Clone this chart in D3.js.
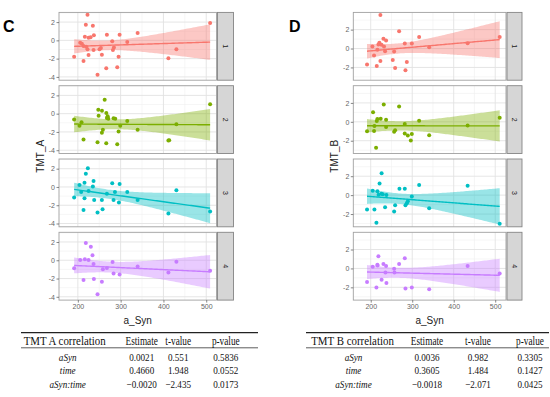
<!DOCTYPE html>
<html><head><meta charset="utf-8">
<script src="https://cdn.jsdelivr.net/npm/d3@7"></script>
<style>body{margin:0;background:#fff}svg{display:block}</style>
</head><body><svg id="c" width="550" height="397"></svg>
<script>
// ---------- data ----------
const facets = ["1","2","3","4"];
const colors = ["#F8766D","#7CAE00","#00BFC4","#C77CFF"];
const xTicks = [200,300,400,500];
const yTicksA = [2,0,-2,-4];
const yTicksB = [2,0,-2];

const tmtA1 = [[222.6,2.8],[218.7,1.71],[235.1,1.6],[216.4,0.4],[225,0.29],[229.7,0.33],[237.5,0.55],[267.9,0.62],[297.6,0.62],[339.7,0.8],[205.5,-0.25],[209.4,-0.36],[213.3,-0.62],[191.4,-1.79],[213.3,-2.26],[225,-1.6],[219.5,-0.69],[222.6,-0.98],[236.7,-1.06],[250.7,-0.98],[256.2,-1.57],[246,-3.75],[266.4,-3.06],[292.1,-2.95],[295.2,-1.79],[280.4,-0.11],[284.3,-0.77],[282,-1.06],[315.5,-0.18],[253.9,-0.84],[411.6,-1.97],[430.3,-0.98],[509.1,1.89]];
const tmtA2 = [[262.7,1.53],[247.8,0.44],[256.4,0.33],[266.6,0.07],[269.7,-0.29],[248.6,-0.22],[271.3,-0.55],[191.4,-0.65],[267.9,-0.47],[283.5,-0.5],[287.4,-0.55],[315.5,-0.8],[208.6,-0.95],[203.9,-1.31],[299.1,-1.31],[339.7,-1.75],[430.3,-1.16],[509.1,1.02],[258.5,-1.75],[256.2,-2.1],[295.2,-1.96],[213.3,-2.84],[246,-3.13],[266.4,-3.24],[292.1,-3.35],[411.6,-2.95],[413.5,-2.9]];
const tmtA3 = [[223.4,2.04],[218.7,1.45],[215.6,0.47],[203.9,0.22],[236.7,0.65],[235.1,0.04],[225,-0.44],[207.8,-0.55],[191.4,-1.16],[215.6,-1.24],[238.2,-1.42],[256.2,-1.42],[267.9,-0.73],[280.4,0.4],[297.6,0.33],[286.7,-0.55],[315.5,-0.55],[283.5,-1.42],[296,-1.71],[339.7,-1.42],[213.3,-2.51],[257.8,-2.44],[246,-2.8],[411.6,-2.91],[430.3,-0.36],[509.1,-2.69]];
const tmtA4 = [[218.7,1.89],[230.4,1.49],[234.3,0.55],[205.5,0.04],[216.4,0.11],[225,0.04],[236.7,-0.4],[191.4,-0.87],[258.5,-0.98],[267.9,-0.84],[281.2,-0.18],[283.5,-1.45],[297.6,-1.56],[339.7,-0.69],[213.3,-2.15],[237.5,-2.04],[256.2,-2.36],[246,-3.71],[411.6,-1.35],[430.3,-0.15],[509.1,-1.16]];

const tmtB1 = [[223.3,3.54],[268.4,1.82],[316.7,1.21],[230.6,1.04],[237,0.86],[220.9,0.61],[218.5,0.43],[226,0.39],[232,0.21],[204,0.21],[282.1,0.54],[299,0.54],[340.9,0.14],[433.5,0.57],[510.8,1.21],[216.1,-0.14],[234.6,-0.29],[256.4,-0.32],[208,-0.75],[223.3,-1.32],[253.1,-1.21],[191.1,-1.68],[214.5,-1.86],[287,-1.43],[258.8,-2.07],[283.7,-2.29]];
const tmtB2 = [[231.4,1.84],[268.4,1.62],[205.6,1.01],[216,0.29],[224,0.32],[214.5,0.1],[237,0.22],[282,-0.22],[316.7,0.11],[433.5,-0.4],[510.8,0.43],[208.9,-0.43],[237,-0.54],[208,-0.97],[258.8,-0.9],[256.4,-1.05],[282,-1.23],[289.4,-1.44],[299,-1.3],[340.9,-1.41],[296.6,-1.98],[212.9,-2.75],[191.1,-1.0]];
const tmtB3 = [[226.2,2.3],[221.3,1.22],[316.7,1.08],[433.5,1.0],[269.2,0.68],[282.1,0.68],[204.8,0.47],[216.1,0.4],[225.8,0.14],[219,0.05],[229,0.1],[237.8,0],[299,-0.14],[289.4,-0.65],[287,-0.86],[283.7,-1.08],[258.8,-1.08],[234.6,-1.29],[256.4,-1.73],[191.1,-1.51],[208.9,-1.51],[340.9,-1.4],[213.7,-2.91],[510.8,-3.02]];
const tmtB4 = [[218.5,1.29],[282.1,1.08],[268.4,0.47],[230.6,0.47],[216,0.4],[216.5,0.3],[237,0.25],[204.8,0.18],[433.5,0.25],[256.4,-0.04],[235.4,-0.43],[257.2,-0.43],[510.8,-0.54],[226.2,-1.19],[191.1,-1.44],[237.8,-1.55],[213.7,-2.01],[283.7,-2.12],[299,-2.01],[340.9,-2.19]];

const tableTerms = ["aSyn","time","aSyn:time"];
const tableAHeader = ["TMT A correlation","Estimate","t-value","p-value"];
const tableAEst = ["0.0021","0.4660","\u22120.0020"];
const tableAT = ["0.551","1.948","\u22122.435"];
const tableAP = ["0.5836","0.0552","0.0173"];
const tableBHeader = ["TMT B correlation","Estimate","t-value","p-value"];
const tableBEst = ["0.0036","0.3605","\u22120.0018"];
const tableBT = ["0.982","1.484","\u22122.071"];
const tableBP = ["0.3305","0.1427","0.0425"];

// ---------- helpers ----------
function tq(df){ // 97.5% t quantile approx
  const z=1.959964;
  return z+(z**3+z)/(4*df)+(5*z**5+16*z**3+3*z)/(96*df*df)+(3*z**7+19*z**5+17*z**3-15*z)/(384*df**3);
}
function lmFit(pts){
  const n=pts.length, mx=d3.mean(pts,d=>d[0]), my=d3.mean(pts,d=>d[1]);
  let sxx=0,sxy=0; pts.forEach(d=>{sxx+=(d[0]-mx)**2; sxy+=(d[0]-mx)*(d[1]-my);});
  const b=sxy/sxx, a=my-b*mx;
  let sse=0; pts.forEach(d=>{sse+=(d[1]-a-b*d[0])**2;});
  const s=Math.sqrt(sse/(n-2)), t=tq(n-2);
  const [x0,x1]=d3.extent(pts,d=>d[0]);
  return d3.range(80).map(i=>{const x=x0+(x1-x0)*i/79; const y=a+b*x;
    const h=t*s*Math.sqrt(1/n+(x-mx)**2/sxx); return {x,y,lo:y-h,hi:y+h};});
}

const svg=d3.select("#c");
const font="'Liberation Sans',Arial,sans-serif";

function drawChart(cfg){
  const g=svg.append("g");
  const x=d3.scaleLinear().domain(cfg.xDomain).range([cfg.left,cfg.right]);
  const xMinor=[250,350,450];
  cfg.panels.forEach((pts,i)=>{
    const top=cfg.top0+i*cfg.step, bot=top+cfg.h;
    const y=d3.scaleLinear().domain(cfg.yDomain).range([bot,top]);
    const p=g.append("g");
    p.append("rect").attr("x",cfg.left).attr("y",top).attr("width",cfg.right-cfg.left).attr("height",cfg.h).attr("fill","#fff");
    // grid
    p.selectAll(".ymin").data(cfg.yMinor).join("line").attr("x1",cfg.left).attr("x2",cfg.right)
      .attr("y1",d=>y(d)).attr("y2",d=>y(d)).attr("stroke","#f0f0f0").attr("stroke-width",0.6);
    p.selectAll(".xmin").data(xMinor).join("line").attr("y1",top).attr("y2",bot)
      .attr("x1",d=>x(d)).attr("x2",d=>x(d)).attr("stroke","#f0f0f0").attr("stroke-width",0.6);
    p.selectAll(".ymaj").data(cfg.yTicks).join("line").attr("x1",cfg.left).attr("x2",cfg.right)
      .attr("y1",d=>y(d)).attr("y2",d=>y(d)).attr("stroke","#e2e2e2").attr("stroke-width",0.9);
    p.selectAll(".xmaj").data(xTicks).join("line").attr("y1",top).attr("y2",bot)
      .attr("x1",d=>x(d)).attr("x2",d=>x(d)).attr("stroke","#e2e2e2").attr("stroke-width",0.9);
    // smooth
    const fit=lmFit(pts);
    p.append("path").datum(fit).attr("fill",colors[i]).attr("fill-opacity",0.4)
      .attr("d",d3.area().x(d=>x(d.x)).y0(d=>y(d.lo)).y1(d=>y(d.hi)));
    p.selectAll("circle").data(pts).join("circle").attr("cx",d=>x(d[0])).attr("cy",d=>y(d[1]))
      .attr("r",2).attr("fill",colors[i]);
    p.append("path").datum(fit).attr("fill","none").attr("stroke",colors[i]).attr("stroke-width",1.4)
      .attr("d",d3.line().x(d=>x(d.x)).y(d=>y(d.y)));
    // border
    p.append("rect").attr("x",cfg.left).attr("y",top).attr("width",cfg.right-cfg.left).attr("height",cfg.h)
      .attr("fill","none").attr("stroke","#a0a0a0").attr("stroke-width",0.9);
    // y axis
    const ya=d3.axisLeft(y).tickValues(cfg.yTicks).tickSize(2.5).tickPadding(1.5).tickFormat(d3.format("d"));
    const ag=p.append("g").attr("transform",`translate(${cfg.left},0)`).call(ya);
    ag.select(".domain").remove();
    ag.selectAll(".tick line").attr("stroke","#555").attr("stroke-width",0.7);
    ag.selectAll(".tick text").attr("fill","#666").attr("font-size",7).attr("font-family",font).text(d=>d<0?"-"+Math.abs(d):d);
    // strip
    p.append("rect").attr("x",cfg.right+1).attr("y",top).attr("width",cfg.stripW).attr("height",cfg.h)
      .attr("fill","#d6d6d6").attr("stroke","#858585").attr("stroke-width",0.9);
    p.append("text").attr("transform",`translate(${cfg.right+1+cfg.stripW/2},${(top+bot)/2}) rotate(90)`)
      .attr("text-anchor","middle").attr("dy","0.35em").attr("font-size",7).attr("font-family",font)
      .attr("fill","#1a1a1a").text(facets[i]);
  });
  const bottom=cfg.top0+3*cfg.step+cfg.h;
  const xa=d3.axisBottom(x).tickValues(xTicks).tickSize(2.5).tickPadding(1.5);
  const xg=g.append("g").attr("transform",`translate(0,${bottom})`).call(xa);
  xg.select(".domain").remove();
  xg.selectAll(".tick line").attr("stroke","#555").attr("stroke-width",0.7);
  xg.selectAll(".tick text").attr("fill","#666").attr("font-size",7).attr("font-family",font);
  g.append("text").attr("x",(cfg.left+cfg.right)/2).attr("y",bottom+24).attr("text-anchor","middle")
    .attr("font-size",10).attr("font-family",font).attr("fill","#222").text("a_Syn");
  g.append("text").attr("transform",`translate(${cfg.ytitleX},${cfg.top0+(bottom-cfg.top0)/2}) rotate(-90)`)
    .attr("text-anchor","middle").attr("font-size",10).attr("font-family",font).attr("fill","#222").text(cfg.ytitle);
  g.append("text").attr("x",cfg.letterX).attr("y",32.3).attr("font-size",16).attr("font-weight","bold")
    .attr("font-family",font).attr("fill","#000").text(cfg.letter);
}

drawChart({left:59,right:216.5,xDomain:[156,524],yDomain:[-4.36,3.06],yTicks:yTicksA,yMinor:[3,1,-1,-3],
  top0:12.4,step:73.3,h:67.8,stripW:16,panels:[tmtA1,tmtA2,tmtA3,tmtA4],ytitle:"TMT_A",ytitleX:43.5,letter:"C",letterX:3});
drawChart({left:353.3,right:506,xDomain:[158,526],yDomain:[-3.35,3.82],yTicks:yTicksB,yMinor:[3,1,-1,-3],
  top0:12.4,step:73.3,h:67.8,stripW:15,panels:[tmtB1,tmtB2,tmtB3,tmtB4],ytitle:"TMT_B",ytitleX:337.5,letter:"D",letterX:289});

// ---------- tables ----------
const serif="'Liberation Serif','Times New Roman',serif";
function cell(g,txt,cx,cy,size,sx,italic){
  g.append("text").attr("transform",`translate(${cx},${cy}) scale(${sx},1)`)
    .attr("text-anchor","middle").attr("font-family",serif).attr("font-size",size).attr("fill","#111")
    .attr("font-style",italic?"italic":"normal").text(txt);
}
function drawTable(cfg){
  const g=svg.append("g");
  g.append("line").attr("x1",cfg.x0).attr("x2",cfg.x1).attr("y1",332.6).attr("y2",332.6).attr("stroke","#222").attr("stroke-width",1.4);
  g.append("line").attr("x1",cfg.x0).attr("x2",cfg.x1).attr("y1",347.8).attr("y2",347.8).attr("stroke","#333").attr("stroke-width",0.8);
  cfg.header.forEach((h,i)=>cell(g,h,cfg.cols[i],344.6,11.6,i===0?0.94:0.8,false));
  const rows=tableTerms.map((t,i)=>[t,cfg.est[i],cfg.t[i],cfg.p[i]]);
  const rowY=[360.6,374.2,388.3];
  rows.forEach((r,ri)=>r.forEach((v,i)=>cell(g,v,cfg.cols[i]+(i===0?cfg.labelShift:0),rowY[ri],11.4,0.8,i===0)));
}
drawTable({x0:21,x1:258,cols:[64.7,141.7,178.2,225.8],labelShift:3,header:tableAHeader,est:tableAEst,t:tableAT,p:tableAP});
drawTable({x0:306,x1:549,cols:[352.5,427,478,530],labelShift:1,header:tableBHeader,est:tableBEst,t:tableBT,p:tableBP});
</script></body></html>
